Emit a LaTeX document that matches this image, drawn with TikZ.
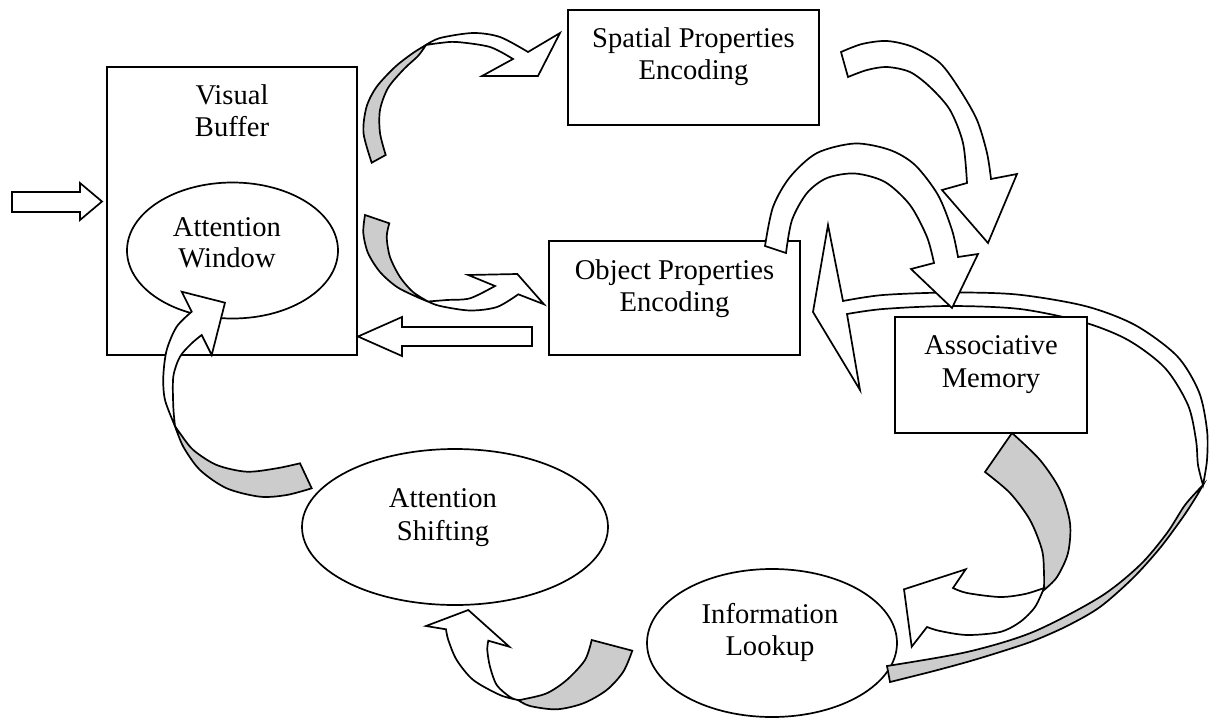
\documentclass[tikz,border=0pt]{standalone}
\usepackage{fontspec}
\setmainfont{Liberation Serif}
\usetikzlibrary{shapes.geometric}
\definecolor{ribbon}{RGB}{204,204,204}
\begin{document}
\begin{tikzpicture}[x=1pt,y=-1pt,
  outline/.style={draw=black, line width=1.7pt, line join=miter},
  box/.style={outline, fill=white, rectangle, inner sep=0pt},
  oval/.style={outline, fill=white, ellipse, inner sep=0pt},
  front/.style={outline, fill=white},
  back/.style={outline, fill=ribbon},
  lbl/.style={anchor=base, inner sep=0pt, font=\fontsize{28.6}{32}\selectfont}]
\useasboundingbox (0,0) rectangle (1211,718);
\fill[white] (0,0) rectangle (1211,718);

% boxes
\node[box, minimum width=250pt, minimum height=288pt] (vb) at (232,211) {};
\node[box, minimum width=251pt, minimum height=115pt] (sp) at (693.5,67.5) {};
\node[box, minimum width=251pt, minimum height=114pt] (op) at (674.5,298) {};

% ovals
\node[oval, minimum width=211pt, minimum height=136pt] (aw) at (232.5,250.5) {};
\node[oval, minimum width=306pt, minimum height=156pt] (as) at (455,527) {};
\node[oval, minimum width=250pt, minimum height=148pt] (il) at (772,643) {};

% straight block arrows
\draw[front] (12,192) -- (80,192) -- (80,183) -- (102,201.5) -- (80,220) -- (80,212) -- (12,212) -- cycle;
\draw[front] (532,327) -- (402,327) -- (402,317) -- (358,336.5) -- (402,356) -- (402,346) -- (532,346) -- cycle;

% visual buffer -> spatial properties
\draw[back] plot[smooth] coordinates {(371.7,162.7) (363.5,133) (366.5,107) (376.5,87) (395,67) (413,53) (426,45)}
  -- plot[smooth] coordinates {(426,45) (418,56) (404,69) (388,88) (380,110) (380,133) (385.7,155)} -- cycle;
\draw[front] plot[smooth] coordinates {(426,45) (440,38) (473,33) (500,37) (528,52)}
  -- (560,33) -- (538,76) -- (482,76) -- (513,59)
  -- plot[smooth] coordinates {(513,59) (490,47) (457,42) (440,43) (426,45)} -- cycle;

% visual buffer -> object properties
\draw[back] plot[smooth] coordinates {(365,215) (363.3,233) (368,253) (380,272) (397,287) (417,297) (428,301.5)}
  -- plot[smooth] coordinates {(428,301.5) (413,292) (400,277) (390,257) (386.7,237) (389.3,223.3)} -- cycle;
\draw[front] plot[smooth] coordinates {(428,301.5) (440,306) (470,310.5) (497,307) (518.3,294.3)}
  -- (544,304.3) -- (517.3,274) -- (468.3,275) -- (495,286)
  -- plot[smooth] coordinates {(495,286) (470,298.3) (447,300) (428,301.5)} -- cycle;

% spatial properties -> associative memory
\draw[front] plot[smooth] coordinates {(841,52) (862,44) (887,41) (913,47) (940,63) (960,90) (977,120) (987,153) (991,179)}
  -- (1017,174) -- (988,243) -- (942,190) -- (967,183)
  -- plot[smooth] coordinates {(967,183) (963,143) (950,110) (930,87) (910,72) (887,67) (867,70) (848,77)} -- cycle;

% associative memory -> object properties (long ribbon)
\draw[back] plot[smooth] coordinates {(890,682) (930,672) (967,662) (1000,652) (1033,641) (1067,626) (1100,607) (1133,578) (1160,548) (1183,517) (1196,497) (1203,485)}
  -- plot[smooth] coordinates {(1203,485) (1185,505) (1167,533) (1140,565) (1100,597) (1033,632) (967,652) (887,666)} -- cycle;
\draw[front] plot[smooth] coordinates {(1203,485) (1207,460) (1207,430) (1199,392) (1177,356) (1135,325) (1085,306) (1017,294.5) (950,292.5) (883,295) (843,301)}
  -- (828,225) -- (813,312) -- (860,390) -- (847,314)
  -- plot[smooth] coordinates {(847,314) (883,309) (950,306) (1020,309) (1083,322) (1128,340) (1165,368) (1188,405) (1196,440) (1198,465) (1203,485)} -- cycle;

\node[box, minimum width=192pt, minimum height=116pt] (am) at (991,375) {};

% object properties -> associative memory
\draw[front] plot[smooth] coordinates {(765,246) (773,207) (790,177) (817,153) (855,143.5) (890,150) (915,165) (938,195) (952,230) (958,257)}
  -- (978,254) -- (952,308) -- (911,269) -- (934,263)
  -- plot[smooth] coordinates {(934,263) (927,237) (910,205) (885,182) (855,173.5) (827,178) (807,193) (792,220) (786,253)} -- cycle;

% associative memory -> information lookup
\draw[back] plot[smooth] coordinates {(1012,433) (1040,460) (1060,490) (1070,523) (1068,553) (1057,577) (1044,590)}
  -- plot[smooth] coordinates {(1044,590) (1044,573) (1042,550) (1030,520) (1010,493) (985,472)} -- cycle;
\draw[front] plot[smooth] coordinates {(1044,588) (1035,607) (1020,622) (1000,632) (967,635) (940,631) (927,627)}
  -- (911.7,646.7) -- (904,589.3) -- (965.7,569.3) -- (953,588)
  -- plot[smooth] coordinates {(953,588) (967,593) (1000,597) (1025,594) (1044,588)} -- cycle;

% information lookup -> attention shifting
\draw[back] plot[smooth] coordinates {(632.3,650.7) (623.3,671.7) (606.7,690) (583.3,703.3) (556.7,709.3) (530,706) (518,700)}
  -- plot[smooth] coordinates {(518,700) (523.3,699.3) (546.7,693.3) (566.7,680) (585,660) (591.7,640)} -- cycle;
\draw[front] plot[smooth] coordinates {(518,700) (500,695) (473.3,680) (456.7,660) (448.3,640) (446,629.3)}
  -- (426,626) -- (468.3,610) -- (509.3,646.7) -- (488.3,640.7)
  -- plot[smooth] coordinates {(488.3,640.7) (487.3,650) (490,666.7) (496.7,685) (510,697) (518,700)} -- cycle;

% attention shifting -> attention window
\draw[back] plot[smooth] coordinates {(311.7,488.3) (286.7,495) (260,496.7) (226.7,488.3) (200,470) (183.3,446.7) (175,426)}
  -- plot[smooth] coordinates {(175,426) (180,433.3) (193.3,450) (216.7,465) (246.7,471.7) (276.7,468.3) (300,463.3)} -- cycle;
\draw[front] plot[smooth] coordinates {(175,426) (165,400) (163.3,376.7) (166.7,350) (176.7,326.7) (191.7,311.7)}
  -- (181.7,291.7) -- (225,302.7) -- (211.7,355) -- (201.7,335)
  -- plot[smooth] coordinates {(201.7,335) (191.7,343.3) (180,356.7) (173.3,376.7) (173.3,406.7) (175,426)} -- cycle;

% labels
\node[lbl] (vb-a) at (232,104) {Visual};
\node[lbl] (vb-b) at (232,136) {Buffer};
\node[lbl] (sp-a) at (693.5,47) {Spatial Properties};
\node[lbl] (sp-b) at (693.5,79) {Encoding};
\node[lbl] (op-a) at (674.5,279) {Object Properties};
\node[lbl] (op-b) at (674.5,311) {Encoding};
\node[lbl] (am-a) at (991,354) {Associative};
\node[lbl] (am-b) at (991,387) {Memory};
\node[lbl] (aw-a) at (227,236) {Attention};
\node[lbl] (aw-b) at (227,267) {Window};
\node[lbl] (as-a) at (443,507) {Attention};
\node[lbl] (as-b) at (443,540) {Shifting};
\node[lbl] (il-a) at (770,623) {Information};
\node[lbl] (il-b) at (770,655) {Lookup};
\end{tikzpicture}
\end{document}
